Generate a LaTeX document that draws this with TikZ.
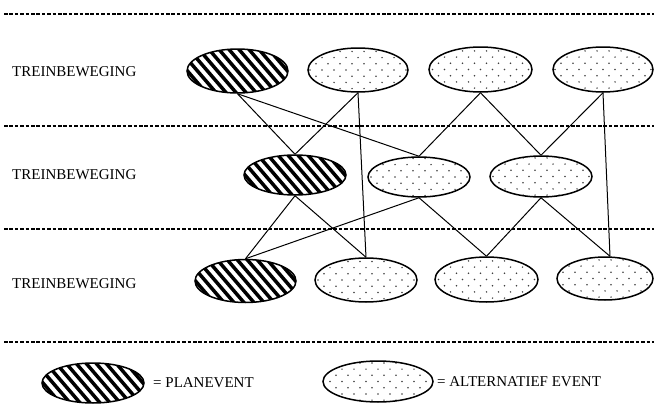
\documentclass[tikz,border=0pt]{standalone}
\usepackage{fontspec}
\setmainfont{Liberation Serif}
\usetikzlibrary{shapes.geometric}
\tikzset{
  ev/.style={ellipse, draw, line width=1.5pt, inner sep=0pt},
  planev/.style={ev, path picture={
      \foreach \i in {-16,...,16}
        \draw[line width=3.5pt] ([xshift={\i*10pt-30pt}, yshift=35pt]path picture bounding box.center) -- ++(60pt,-70pt);}},
  altev/.style={ev, path picture={
      \foreach \r in {-4,...,4}
        \foreach \c in {-8,...,8}
          \fill[black!75] ([xshift={\c*12pt+\r*6pt}, yshift={\r*6.2pt}]path picture bounding box.center) circle (0.85pt);}},
  sep/.style={line width=1.3pt, dash pattern=on 3.6pt off 1.8pt},
  conn/.style={line width=1pt},
  lbl/.style={font=\fontsize{15pt}{16pt}\selectfont, inner sep=0pt}
}
\begin{document}
\begin{tikzpicture}[x=1pt,y=1pt]
\useasboundingbox (0,0) rectangle (654,-407);
% separators
\coordinate (s1a) at (4,-14);  \coordinate (s1b) at (654,-14);
\coordinate (s2a) at (4,-126); \coordinate (s2b) at (654,-126);
\coordinate (s3a) at (4,-229); \coordinate (s3b) at (654,-229);
\coordinate (s4a) at (4,-342); \coordinate (s4b) at (654,-342);
\draw[sep] (s1a) -- (s1b);
\draw[sep] (s2a) -- (s2b);
\draw[sep] (s3a) -- (s3b);
\draw[sep] (s4a) -- (s4b);
% labels
\node[lbl, anchor=west] (t1) at (12,-72) {TREINBEWEGING};
\node[lbl, anchor=west] (t2) at (12,-175) {TREINBEWEGING};
\node[lbl, anchor=west] (t3) at (12,-284) {TREINBEWEGING};
% row 1
\node[planev, minimum width=101pt, minimum height=44pt] (A1) at (237.5,-71) {};
\node[altev, minimum width=100pt, minimum height=44pt] (A2) at (358,-70) {};
\node[altev, minimum width=103pt, minimum height=45pt] (A3) at (480.5,-69.5) {};
\node[altev, minimum width=100pt, minimum height=45pt] (A4) at (603,-69.5) {};
% row 2
\node[planev, minimum width=102pt, minimum height=40pt] (B1) at (295,-175) {};
\node[altev, minimum width=102pt, minimum height=40pt] (B2) at (419,-177) {};
\node[altev, minimum width=102pt, minimum height=41pt] (B3) at (541,-176.5) {};
% row 3
\node[planev, minimum width=101pt, minimum height=43pt] (C1) at (245.5,-281) {};
\node[altev, minimum width=102pt, minimum height=44pt] (C2) at (366,-280) {};
\node[altev, minimum width=103pt, minimum height=45pt] (C3) at (486.5,-279.5) {};
\node[altev, minimum width=96pt, minimum height=43pt] (C4) at (605,-278.5) {};
% connectors
\draw[conn] (A1.south) -- (B1.north);
\draw[conn] (A1.south) -- (B2.north);
\draw[conn] (A2.south) -- (B1.north);
\draw[conn] (A2.south) -- (C2.north);
\draw[conn] (A3.south) -- (B2.north);
\draw[conn] (A3.south) -- (B3.north);
\draw[conn] (A4.south) -- (B3.north);
\draw[conn] (A4.south) -- ([xshift=5pt]C4.north);
\draw[conn] (B1.south) -- (C1.north);
\draw[conn] (B1.south) -- (C2.north);
\draw[conn] (B2.south) -- (C1.north);
\draw[conn] (B2.south) -- (C3.north);
\draw[conn] (B3.south) -- (C3.north);
\draw[conn] (B3.south) -- ([xshift=5pt]C4.north);
% legend
\node[planev, minimum width=102pt, minimum height=40pt] (L1) at (93,-383) {};
\node[lbl, anchor=west] (l1t) at (153,-383) {= PLANEVENT};
\node[altev, minimum width=110pt, minimum height=41pt] (L2) at (378,-381.5) {};
\node[lbl, anchor=west] (l2t) at (437,-382) {= ALTERNATIEF EVENT};
\end{tikzpicture}
\end{document}
